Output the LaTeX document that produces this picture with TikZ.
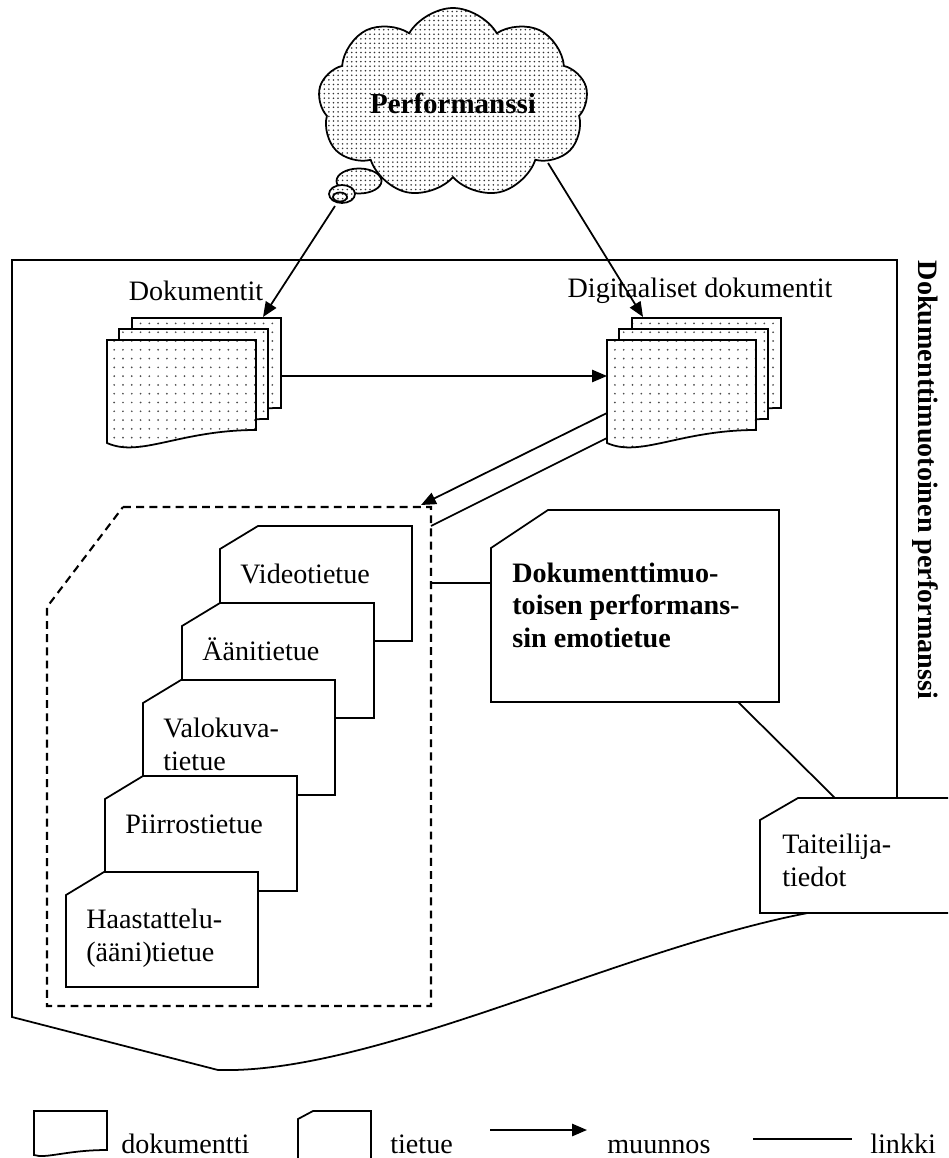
\documentclass[tikz,border=0pt]{standalone}
\usepackage{fontspec}
\setmainfont{Liberation Serif}
\usetikzlibrary{arrows.meta,patterns.meta,shapes.symbols}

% yksi dokumenttisivu, vasen ylakulma (x,y)
\newcommand{\sivu}[2]{%
  \filldraw[sivu] (#1,#2) -- ++(149,0) -- ++(0,90)
    .. controls +(-76,0) and +(33,15) .. ++(-149,13) -- cycle;}
% kolmen sivun pino
\newcommand{\pino}[2]{\sivu{#1+25}{#2-22}\sivu{#1+12}{#2-11}\sivu{#1}{#2}}
% tietue: nimi, x, y, viimeisen rivin perusviiva, teksti
\newcommand{\tietue}[5]{%
  \filldraw[kortti] (#2,#3+23) -- (#2+38,#3) -- (#2+192,#3) -- (#2+192,#3+115) -- (#2,#3+115) -- cycle;
  \node[kteksti] (#1) at (#2+20,#3+#4) {#5};}

\begin{document}
\begin{tikzpicture}[x=0.02cm, y=-0.02cm,
  font=\fontsize{16}{18.4}\selectfont,
  viiva/.style={line width=1pt},
  nuoli/.style={line width=1pt, -{Triangle[length=8.5pt,width=7pt]}},
  pilvi/.style={draw, line width=1pt, preaction={fill=white}, pattern={Dots[distance=2.6pt,radius=0.5pt]}, pattern color=black!80},
  sivu/.style={draw, line width=1pt, preaction={fill=white}, pattern={Dots[distance=5pt,radius=0.55pt]}, pattern color=black!70},
  kortti/.style={draw, line width=1pt, fill=white},
  kteksti/.style={anchor=base west, align=left, inner sep=0pt},
  katko/.style={line width=1.2pt, dash pattern=on 4.5pt off 3pt}
]
\useasboundingbox (0,0) rectangle (948,1158);
\clip (0,0) rectangle (948,1158);

% dokumenttimuotoinen performanssi
\draw[viiva] (12,260) -- (897,260) -- (897,903) .. controls (700,905) and (400,1075) .. (218,1070) -- (12,1017) -- cycle;
\node[font=\bfseries\fontsize{16}{18.4}\selectfont, rotate=-90] (kehys) at (925,480) {Dokumenttimuotoinen performanssi};

% pilvi
\node[cloud, pilvi, cloud puffs=9, cloud puff arc=120, cloud ignores aspect,
  minimum width=5.4cm, minimum height=3.8cm,
  font=\bfseries\fontsize{16.5}{18}\selectfont] (perf) at (453,103) {Performanssi};
\filldraw[pilvi] (359,181) ellipse [x radius=0.45cm, y radius=0.25cm];
\filldraw[pilvi] (342,194) ellipse [x radius=0.26cm, y radius=0.18cm];
\draw[viiva] (340,197) ellipse [x radius=0.14cm, y radius=0.09cm];
\coordinate (hanta) at (335,206);
\coordinate (pilvi-oik) at (548,163);

% dokumentit
\pino{107}{340}
\pino{607}{340}
\node (dok) at (196,291) {Dokumentit};
\node (dig) at (700,291) {Digitaaliset dokumentit};

% tietueet
\draw[katko] (123,507) -- (431,507) -- (431,1006) -- (47,1006) -- (47,607) -- cycle;
\tietue{video}{220}{526}{57}{Videotietue}
\tietue{aani}{182}{603}{57}{Äänitietue}
\tietue{valo}{143}{680}{90}{Valokuva-\\tietue}
\tietue{piirros}{105}{776}{57}{Piirrostietue}
\tietue{haast}{66}{872}{89}{Haastattelu-\\(ääni)tietue}

\filldraw[kortti] (491,548) -- (548,510) -- (779,510) -- (779,702) -- (491,702) -- cycle;
\node[kteksti, font=\bfseries\fontsize{16}{18.4}\selectfont] (emo) at (512,647) {Dokumenttimuo-\\toisen performans-\\sin emotietue};
\filldraw[kortti] (760,820) -- (798,798) -- (990,798) -- (990,913) -- (760,913) -- cycle;
\node[kteksti] (taiteilija) at (782,886) {Taiteilija-\\tiedot};

% liitoskohdat
\coordinate (dok-sisaan) at (263,317);
\coordinate (dig-sisaan) at (643,317);
\coordinate (dok-ulos) at (280,376);
\coordinate (dig-vasen) at (607,376);
\coordinate (dig-ulos) at (607,413);
\coordinate (dig-linkki) at (607,438);
\coordinate (alue-kulma) at (421,505);
\coordinate (alue-oik) at (431,526);
\coordinate (alue-emo) at (431,583);
\coordinate (emo-vasen) at (491,583);
\coordinate (emo-ala) at (738,702);
\coordinate (taiteilija-yla) at (835,798);

\draw[nuoli] (hanta) -- (dok-sisaan);
\draw[nuoli] (pilvi-oik) -- (dig-sisaan);
\draw[nuoli] (dok-ulos) -- (dig-vasen);
\draw[nuoli] (dig-ulos) -- (alue-kulma);
\draw[viiva] (dig-linkki) -- (alue-oik);
\draw[viiva] (alue-emo) -- (emo-vasen);
\draw[viiva] (emo-ala) -- (taiteilija-yla);

% selitteet
\draw[viiva] (34,1111) -- (107,1111) -- (107,1150) .. controls +(-40,0) and +(12,4) .. (34,1155) -- cycle;
\node[kteksti] (s-dok) at (121,1153) {dokumentti};
\draw[viiva] (298,1119) -- (313,1111) -- (371,1111) -- (371,1165) -- (298,1165) -- cycle;
\node[kteksti] (s-tie) at (390,1153) {tietue};
\coordinate (m1) at (490,1130);
\coordinate (m2) at (587,1130);
\draw[nuoli] (m1) -- (m2);
\node[kteksti] (s-muu) at (607,1153) {muunnos};
\coordinate (k1) at (753,1139);
\coordinate (k2) at (852,1139);
\draw[viiva] (k1) -- (k2);
\node[kteksti] (s-lin) at (870,1153) {linkki};
\end{tikzpicture}
\end{document}
